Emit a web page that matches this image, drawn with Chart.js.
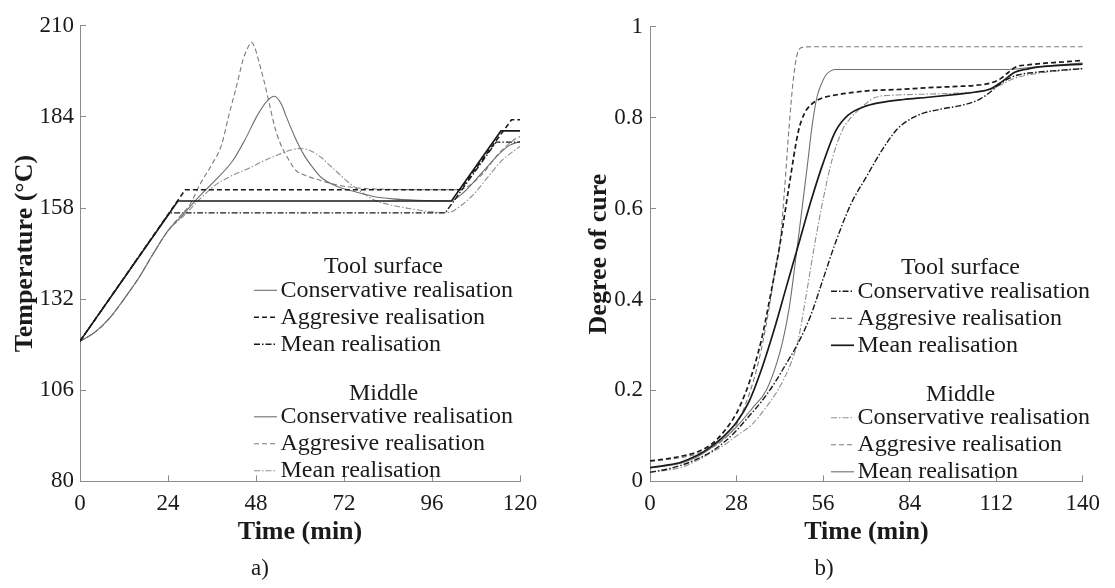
<!DOCTYPE html>
<html>
<head>
<meta charset="utf-8">
<script src="https://cdn.jsdelivr.net/npm/chart.js@4.4.1/dist/chart.umd.min.js"></script>
<style>
  html, body { margin: 0; padding: 0; background: #fff; }
  #wrapA, #wrapB { position: absolute; top: 0; height: 588px; }
  #wrapA { left: 0; width: 557px; }
  #wrapB { left: 557px; width: 558px; }
</style>
</head>
<body>
<div id="wrapA"><canvas id="tempChart" width="557" height="588"></canvas></div>
<div id="wrapB"><canvas id="cureChart" width="558" height="588"></canvas></div>
<script>
// ---- a) temperature (degC) vs time (min) ----
const tempTicksX = [0, 24, 48, 72, 96, 120];
const tempTicksY = [80, 106, 132, 158, 184, 210];

const tsConsT = [0, 26.7, 101.3, 114.8, 120];
const tsConsY = [120, 160, 160, 180, 180];
const tsAggrT = [0, 28.7, 103.7, 117.7, 120];
const tsAggrY = [120, 163.2, 163.2, 183.2, 183.2];
const tsMeanT = [0, 24.4, 99.6, 113.5, 120];
const tsMeanY = [120, 156.6, 156.6, 176.8, 176.8];

const mConsT = [0, 4, 8, 12, 16, 20, 24, 28, 32.8, 37, 41.6, 45, 48.4, 51, 53, 55, 56.1, 58.5, 61, 63.5, 65.8, 70, 75.5, 80, 85.3, 92, 101, 104.7, 110, 114.4, 117, 120];
const mConsY = [120, 122.5, 126.5, 132, 138, 145, 151.5, 156, 161.6, 166, 171.4, 177.5, 184.5, 188.5, 189.9, 187.5, 184.5, 178.5, 173.3, 169.5, 166.7, 164.2, 162.5, 161.3, 160.6, 160.2, 160, 162.5, 168.5, 173.5, 175.8, 177];
const mAggrT = [0, 4, 8, 12, 16, 20, 24, 28, 30, 32.8, 36, 38.6, 40.6, 42.5, 44.5, 45.8, 46.7, 47.6, 48.6, 50.3, 51.8, 53.2, 54.6, 56.1, 59, 61, 65.8, 70, 75, 85, 103, 106, 110, 114, 118, 120];
const mAggrY = [120, 122.5, 126.5, 132, 138, 145, 151.5, 156.5, 159, 164.9, 170.5, 176, 184.5, 192, 200.4, 203.8, 205.3, 204, 200.5, 193.8, 187, 180.8, 176.5, 173.3, 168.6, 167.5, 165.8, 164.6, 163.8, 163.3, 163.2, 164.3, 168, 173.3, 177.2, 178.4];
const mMeanT = [0, 4, 8, 12, 16, 20, 24, 28, 32, 36.7, 41, 46.4, 50, 54.2, 57, 60, 63, 65.8, 68, 70.7, 73, 75.5, 78, 80.4, 85, 90.1, 95, 98.8, 101, 103, 107, 111, 115, 120];
const mMeanY = [120, 122.5, 126.5, 132, 138, 145, 151.5, 155.5, 159.8, 164.4, 167, 169.5, 171.4, 173.3, 174.4, 175, 174.3, 172.4, 170.3, 167.7, 165.5, 163.5, 161.7, 160.2, 158.8, 157.8, 157, 156.7, 156.8, 158, 161.5, 166.5, 171.5, 175.6];

// ---- b) degree of cure vs time (min) ----
const cureTicksX = [0, 28, 56, 84, 112, 140];
const cureTicksY = [0, 0.2, 0.4, 0.6, 0.8, 1];

const cTsConsT = [0, 5, 10, 15, 20, 25, 28, 32, 36, 40, 44, 48, 52, 56, 60, 65, 70, 75, 80, 85, 89, 95, 100, 104, 107, 110, 113, 116, 119, 125, 132, 140];
const cTsConsY = [0.02, 0.026, 0.035, 0.048, 0.066, 0.092, 0.112, 0.143, 0.175, 0.213, 0.258, 0.305, 0.365, 0.445, 0.525, 0.61, 0.67, 0.728, 0.775, 0.8, 0.811, 0.82, 0.826, 0.833, 0.842, 0.856, 0.873, 0.886, 0.894, 0.9, 0.904, 0.908];
const cTsAggrT = [0, 5, 10, 15, 20, 24, 28, 30, 32, 36, 39, 42, 45, 48, 50, 52, 54, 56, 60, 65, 72, 80, 90, 100, 105, 110, 113, 116, 118.5, 122, 128, 132, 140];
const cTsAggrY = [0.045, 0.049, 0.055, 0.064, 0.082, 0.11, 0.15, 0.18, 0.215, 0.31, 0.41, 0.52, 0.65, 0.77, 0.81, 0.828, 0.838, 0.844, 0.85, 0.855, 0.86, 0.862, 0.866, 0.869, 0.871, 0.876, 0.884, 0.9, 0.912, 0.916, 0.92, 0.922, 0.926];
const cTsMeanT = [0, 5, 10, 15, 18, 24, 28, 32, 36, 40, 44, 48, 52, 56, 60, 64, 70, 76, 82, 90, 100, 105, 110, 114, 118, 122, 126, 140];
const cTsMeanY = [0.03, 0.035, 0.042, 0.056, 0.068, 0.1, 0.13, 0.175, 0.245, 0.33, 0.425, 0.52, 0.615, 0.7, 0.77, 0.805, 0.826, 0.835, 0.84, 0.845, 0.852, 0.856, 0.863, 0.88, 0.9, 0.907, 0.912, 0.918];

const cMConsT = [0, 5, 10, 15, 18, 24, 28, 33, 37, 41.3, 45, 47.8, 50.3, 52, 53.5, 56, 59, 62.4, 65, 67.6, 70, 73, 80, 90, 104, 110, 114, 118, 125, 132, 140];
const cMConsY = [0.02, 0.024, 0.03, 0.045, 0.056, 0.08, 0.1, 0.125, 0.158, 0.2, 0.25, 0.307, 0.4, 0.47, 0.53, 0.62, 0.71, 0.775, 0.8, 0.818, 0.832, 0.845, 0.85, 0.852, 0.856, 0.862, 0.874, 0.887, 0.897, 0.903, 0.908];
const cMAggrT = [0, 5, 10, 15, 20, 24, 28, 32, 35, 38, 40.6, 42, 43.5, 45, 46.3, 47.3, 48.2, 49.5, 52, 140];
const cMAggrY = [0.045, 0.048, 0.052, 0.06, 0.074, 0.093, 0.125, 0.19, 0.26, 0.36, 0.47, 0.52, 0.64, 0.78, 0.88, 0.93, 0.95, 0.955, 0.956, 0.956];
const cMMeanT = [0, 5, 10, 15, 18, 24, 28, 33, 37.6, 41, 43, 45, 46.6, 49, 51, 52.4, 54, 55.5, 57, 58.5, 60, 112, 116, 118.5, 122, 130, 140];
const cMMeanY = [0.03, 0.034, 0.04, 0.053, 0.065, 0.095, 0.12, 0.16, 0.2, 0.26, 0.31, 0.38, 0.46, 0.59, 0.7, 0.78, 0.845, 0.875, 0.895, 0.903, 0.906, 0.906, 0.906, 0.907, 0.91, 0.915, 0.92];

const SERIF = "'Liberation Serif', 'Times New Roman', serif";
const INK = '#1a1a1a';

function pts(ts, ys) {
    return ts.map((t, i) => ({ x: t, y: ys[i] }));
}

function line(label, ts, ys, color, width, dash, smooth) {
    return {
        label: label,
        data: pts(ts, ys),
        borderColor: color,
        borderWidth: width,
        borderDash: dash,
        pointRadius: 0,
        fill: false,
        tension: 0,
        cubicInterpolationMode: smooth ? 'monotone' : 'default'
    };
}

const DASH = [5, 3];
const DASHDOT = [6, 2, 1.5, 2];

// legend drawn in two groups inside the plot
const groupLegend = {
    id: 'groupLegend',
    afterDraw(chart, args, opts) {
        const { ctx, chartArea } = chart;
        const sets = chart.data.datasets;
        const recolor = opts.sampleColors || {};
        ctx.save();
        ctx.font = opts.font;
        ctx.textBaseline = 'middle';
        ctx.fillStyle = INK;
        let widest = 0;
        opts.groups.forEach(g => g.items.forEach(i => {
            widest = Math.max(widest, ctx.measureText(sets[i].label).width);
        }));
        const x0 = chartArea.left + opts.left;
        const blockW = opts.sample + opts.gap + widest;
        let y = chartArea.top + opts.top;
        opts.groups.forEach(g => {
            ctx.textAlign = 'center';
            ctx.fillText(g.title, x0 + blockW / 2, y);
            y += opts.headerGap;
            g.items.forEach(i => {
                const ds = sets[i];
                const sc = recolor[i];
                ctx.strokeStyle = sc ? sc.color : ds.borderColor;
                ctx.lineWidth = sc ? sc.width : ds.borderWidth;
                ctx.setLineDash(ds.borderDash || []);
                ctx.beginPath();
                ctx.moveTo(x0, y);
                ctx.lineTo(x0 + opts.sample, y);
                ctx.stroke();
                ctx.setLineDash([]);
                ctx.textAlign = 'left';
                ctx.fillText(ds.label, x0 + opts.sample + opts.gap, y);
                y += opts.rowGap;
            });
            y += opts.groupGap - opts.rowGap;
        });
        ctx.restore();
    }
};

function axes(xTicks, yTicks, yTitle, yWidth, yTitlePad, yLabelPad) {
    const fixed = vals => function (scale) {
        scale.ticks = vals.map(v => ({ value: v }));
    };
    return {
        x: {
            type: 'linear',
            min: xTicks[0],
            max: xTicks[xTicks.length - 1],
            afterBuildTicks: fixed(xTicks),
            afterFit: s => { s.height = 74.1; },
            grid: { drawOnChartArea: false, tickLength: -6, color: '#8c8c8c' },
            border: { display: true, color: '#8c8c8c', width: 1 },
            ticks: { color: INK, padding: 15, maxRotation: 0, font: { family: SERIF, size: 23 },
                     callback: v => String(v) },
            title: { display: true, text: 'Time (min)', color: INK, padding: { top: 0, bottom: 8 },
                     font: { family: SERIF, size: 26, weight: 'bold' } }
        },
        y: {
            type: 'linear',
            min: yTicks[0],
            max: yTicks[yTicks.length - 1],
            afterBuildTicks: fixed(yTicks),
            afterFit: s => { s.width = yWidth; },
            grid: { drawOnChartArea: false, tickLength: -6, color: '#8c8c8c' },
            border: { display: true, color: '#8c8c8c', width: 1 },
            ticks: { color: INK, padding: yLabelPad, font: { family: SERIF, size: 23 },
                     callback: v => String(v) },
            title: { display: true, text: yTitle, color: INK, padding: { top: yTitlePad, bottom: 0 },
                     font: { family: SERIF, size: 26, weight: 'bold' } }
        }
    };
}

function baseOptions(caption, rightPad, scales, legendLeft, sampleColors) {
    return {
        responsive: false,
        animation: false,
        layout: { padding: { top: 19, left: 0, right: rightPad, bottom: 0 } },
        scales: scales,
        plugins: {
            legend: { display: false },
            tooltip: { enabled: false },
            title: { display: true, position: 'bottom', text: caption, color: INK,
                     padding: { top: 0, bottom: 5 }, font: { family: SERIF, size: 23, weight: 'normal' } },
            groupLegend: {
                font: '24px ' + SERIF,
                left: legendLeft, top: 241, sample: 23, gap: 3.5,
                headerGap: 23.5, rowGap: 27, groupGap: 49,
                sampleColors: sampleColors,
                groups: [
                    { title: 'Tool surface', items: [0, 1, 2] },
                    { title: 'Middle', items: [3, 4, 5] }
                ]
            }
        }
    };
}

new Chart(document.getElementById('tempChart'), {
    type: 'line',
    data: {
        datasets: [
            line('Conservative realisation', tsConsT, tsConsY, '#1a1a1a', 1.6, [], false),
            line('Aggresive realisation', tsAggrT, tsAggrY, '#1a1a1a', 1.6, DASH, false),
            line('Mean realisation', tsMeanT, tsMeanY, '#1a1a1a', 1.4, DASHDOT, false),
            line('Conservative realisation', mConsT, mConsY, '#6f6f6f', 1.1, [], true),
            line('Aggresive realisation', mAggrT, mAggrY, '#7a7a7a', 1.1, DASH, true),
            line('Mean realisation', mMeanT, mMeanY, '#8e8e8e', 1.1, DASHDOT, true)
        ]
    },
    options: baseOptions('a)', 37, axes(tempTicksX, tempTicksY, 'Temperature (°C)', 80, 9.4, 12), 174,
                         { 0: { color: '#6f6f6f', width: 1.1 } }),
    plugins: [groupLegend]
});

new Chart(document.getElementById('cureChart'), {
    type: 'line',
    data: {
        datasets: [
            line('Conservative realisation', cTsConsT, cTsConsY, '#1a1a1a', 1.4, DASHDOT, true),
            line('Aggresive realisation', cTsAggrT, cTsAggrY, '#1a1a1a', 1.7, DASH, true),
            line('Mean realisation', cTsMeanT, cTsMeanY, '#1a1a1a', 1.7, [], true),
            line('Conservative realisation', cMConsT, cMConsY, '#8e8e8e', 1.1, DASHDOT, true),
            line('Aggresive realisation', cMAggrT, cMAggrY, '#7a7a7a', 1.1, DASH, true),
            line('Mean realisation', cMMeanT, cMMeanY, '#6f6f6f', 1.1, [], true)
        ]
    },
    options: baseOptions('b)', 24, axes(cureTicksX, cureTicksY, 'Degree of cure', 93, 26.4, 13), 181,
                         { 1: { color: '#555', width: 1.2 } }),
    plugins: [groupLegend]
});
</script>
</body>
</html>
